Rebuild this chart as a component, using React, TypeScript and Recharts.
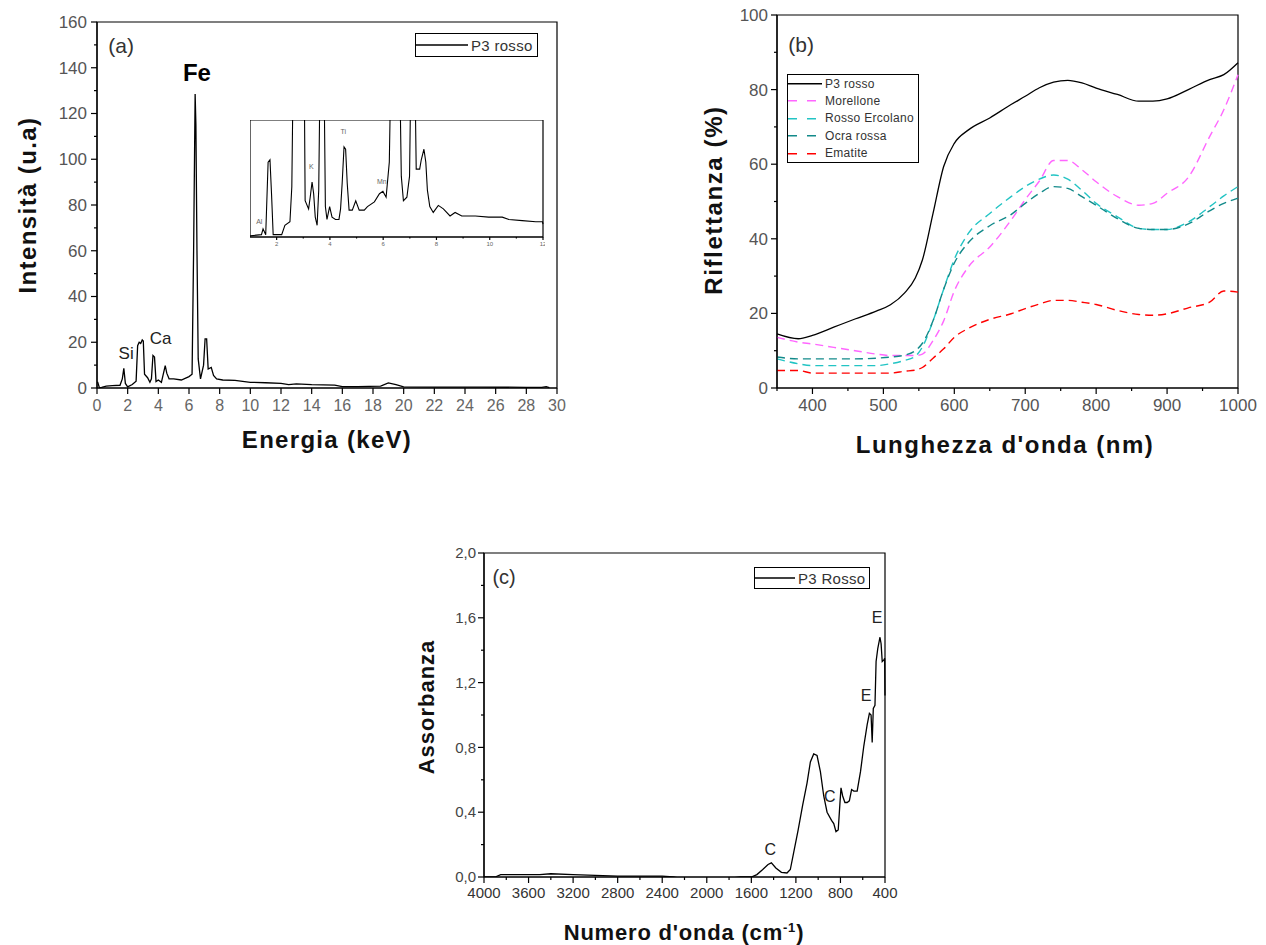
import React from "react";
import {
  Legend,
  Line,
  LineChart,
  ReferenceArea,
  ReferenceDot,
  XAxis,
  YAxis,
} from "recharts";

const FONT = '"Liberation Sans", Arial, sans-serif';

// (a) EDX spectrum
const edxEnergy = [
  0, 0.05, 0.15, 0.3, 0.6, 1.0, 1.5, 1.65, 1.75, 1.85, 2.0, 2.3, 2.55, 2.65, 2.75, 2.85, 2.95, 3.02,
  3.1, 3.3, 3.45, 3.55, 3.65, 3.75, 3.85, 4.0, 4.2, 4.45, 4.55, 4.7, 5.0, 5.5, 6.0, 6.2, 6.3, 6.4,
  6.45, 6.52, 6.6, 6.75, 6.95, 7.05, 7.15, 7.25, 7.45, 7.6, 7.8, 8.2, 9.0, 10.0, 11.0, 12.0, 12.5,
  13.0, 14.0, 15.5, 16.0, 17.0, 18.5, 19.0, 19.5, 20.0, 22.0, 25.0, 28.0, 29.0, 29.3, 29.5,
];
const edxCounts = [
  2.5, 2.5, 0.2, 0.3, 0.8, 1.0, 1.2, 4.0, 8.6, 2.0, 0.5, 1.5, 3.0, 18.5, 20.0, 19.5, 21.0, 20.5,
  6.0, 4.5, 2.5, 4.0, 14.2, 13.5, 2.8, 3.5, 2.5, 9.8, 6.5, 4.0, 4.0, 3.5, 5.0, 6.0, 59.5, 128.5,
  115.0, 60.0, 12.7, 4.0, 10.0, 21.5, 21.5, 8.3, 9.0, 5.5, 4.0, 3.5, 3.3, 2.5, 2.3, 2.0, 1.5,
  1.8, 1.5, 1.3, 0.6, 0.6, 0.8, 2.2, 1.5, 0.5, 0.4, 0.4, 0.3, 0.3, 0.6, 0.2,
];
const edxXTicks = [0, 2, 4, 6, 8, 10, 12, 14, 16, 18, 20, 22, 24, 26, 28, 30];
const edxYTicks = [0, 10, 20, 30, 40, 50, 60, 70, 80, 90, 100, 110, 120, 130, 140, 150, 160];
const edxYMajor = [0, 20, 40, 60, 80, 100, 120, 140, 160];

// (a) inset, zoom on 1-12 keV
const insetEnergy = [
  1.0, 1.43, 1.49, 1.59, 1.68, 1.75, 1.81, 1.87, 2.19, 2.31, 2.5, 2.57, 2.63, 3.03, 3.07, 3.2, 3.26,
  3.33, 3.39, 3.45, 3.52, 3.58, 3.64, 3.77, 3.83, 3.89, 3.99, 4.08, 4.21, 4.34, 4.4, 4.46, 4.53,
  4.59, 4.65, 4.72, 4.84, 4.97, 5.1, 5.29, 5.41, 5.67, 5.86, 5.99, 6.11, 6.23, 6.3, 6.61, 6.68,
  6.76, 6.89, 6.99, 7.05, 7.18, 7.24, 7.37, 7.43, 7.53, 7.6, 7.66, 7.75, 7.88, 8.07, 8.26, 8.51,
  8.7, 8.95, 9.46, 9.96, 10.47, 10.72, 11.22, 11.73, 11.98, 12.0,
];
const insetCounts = [
  1, 2, 7, 2, 64, 66, 36, 2, 2, 10, 13, 43, 160, 160, 31, 24, 34, 47, 37, 17, 10, 40, 160, 160, 26,
  15, 26, 17, 15, 15, 24, 46, 77, 75, 46, 23, 23, 31, 23, 23, 26, 30, 37, 39, 34, 64, 160, 160, 52,
  31, 34, 52, 160, 160, 58, 58, 66, 75, 64, 40, 26, 21, 27, 24, 18, 21, 18, 18, 17, 17, 15, 14,
  13, 13, 11,
];
const insetXTicks = [2, 3, 4, 5, 6, 7, 8, 9, 10, 11, 12];
const insetXMajor = [2, 4, 6, 8, 10, 12];

// (b) reflectance
const wavelengths = [
  350, 380, 400, 430, 460, 490, 510, 530, 545, 555, 570, 585, 600, 620, 650, 680, 700, 720, 740,
  760, 780, 800, 830, 860, 880, 900, 930, 960, 980, 1000,
];
const p3Rosso = [
  14.5, 13.2, 14.1, 16.3, 18.5, 20.6, 22.3, 25.5, 29.5, 34.3, 46.8, 59.4, 65.6, 69.2, 72.4, 76.0,
  78.2, 80.5, 82.0, 82.5, 81.8, 80.4, 78.7, 76.9, 76.9, 77.5, 80.0, 82.7, 84.0, 87.2,
];
const morellone = [
  13.6, 12.3, 11.8, 10.9, 10.0, 9.1, 8.7, 8.7, 8.7, 9.1, 12.7, 18.0, 26.0, 32.5, 37.8, 45.0, 50.5,
  55.5, 61.0, 61.0, 58.5, 55.3, 51.3, 49.0, 49.5, 52.2, 56.5, 67.4, 74.6, 84.0,
];
const rossoErcolano = [
  7.8, 6.5, 6.0, 6.0, 6.0, 6.0, 6.5, 7.4, 8.5, 11.0, 18.0, 26.5, 34.5, 41.5, 46.8, 51.3, 54.0, 56.0,
  57.1, 56.0, 53.0, 49.5, 45.9, 42.8, 42.5, 42.5, 44.5, 48.6, 51.5, 54.0,
];
const ocraRossa = [
  8.3, 7.8, 7.8, 7.8, 7.8, 8.0, 8.3, 8.8, 10.0, 12.0, 18.0, 26.5, 33.5, 39.0, 43.5, 46.5, 49.5, 52.2,
  54.0, 53.5, 51.3, 49.0, 45.4, 42.8, 42.5, 42.5, 44.0, 47.5, 49.5, 50.9,
];
const ematite = [
  4.7, 4.7, 4.0, 4.0, 4.0, 4.0, 4.0, 4.5, 4.8, 5.5, 8.0, 10.5, 13.6, 16.0, 18.4, 19.9, 21.3, 22.5,
  23.5, 23.5, 23.0, 22.4, 20.8, 19.7, 19.5, 19.9, 21.5, 23.0, 26.0, 25.7,
];
const rifXTicks = [350, 400, 450, 500, 550, 600, 650, 700, 750, 800, 850, 900, 950, 1000];
const rifXMajor = [400, 500, 600, 700, 800, 900, 1000];
const rifYTicks = [0, 10, 20, 30, 40, 50, 60, 70, 80, 90, 100];
const rifYMajor = [0, 20, 40, 60, 80, 100];

// (c) FTIR absorbance
const wavenumbers = [
  4000, 3900, 3850, 3700, 3500, 3400, 3200, 3000, 2800, 2600, 2400, 2300, 2200, 2000, 1850, 1700,
  1600, 1550, 1500, 1450, 1420, 1380, 1330, 1280, 1250, 1220, 1180, 1140, 1100, 1070, 1040, 1010,
  980, 950, 920, 880, 860, 840, 820, 805, 795, 780, 760, 740, 720, 700, 680, 650, 620, 590, 560,
  540, 525, 515, 505, 490, 480, 465, 445, 435, 425, 410, 403, 400,
];
const absorbance = [
  0, 0, 0.015, 0.015, 0.015, 0.02, 0.015, 0.01, 0.005, 0.005, 0.005, 0.0, -0.012, -0.012, -0.012,
  0.0, 0.0, 0.015, 0.045, 0.077, 0.087, 0.056, 0.029, 0.025, 0.046, 0.15, 0.29, 0.44, 0.58, 0.71,
  0.76, 0.75, 0.65, 0.5, 0.4, 0.35, 0.33, 0.28, 0.29, 0.45, 0.55, 0.5, 0.46, 0.46, 0.47, 0.54, 0.53,
  0.53, 0.65, 0.81, 0.94, 1.01, 1.0, 0.83, 1.04, 1.06, 1.33, 1.41, 1.48, 1.44, 1.33, 1.34, 1.35,
  1.12,
];
const ftirXTicks = [
  400, 600, 800, 1000, 1200, 1400, 1600, 1800, 2000, 2200, 2400, 2600, 2800, 3000, 3200, 3400, 3600,
  3800, 4000,
];
const ftirXMajor = [400, 800, 1200, 1600, 2000, 2400, 2800, 3200, 3600, 4000];
const ftirYTicks = [0, 0.2, 0.4, 0.6, 0.8, 1, 1.2, 1.4, 1.6, 1.8, 2];
const ftirYMajor = [0, 0.4, 0.8, 1.2, 1.6, 2];

const edxData = edxEnergy.map((e, i) => ({ e, v: edxCounts[i] }));
const insetData = insetEnergy.map((e, i) => ({ e, v: insetCounts[i] }));
const rifData = wavelengths.map((wl, i) => ({
  wl,
  p3: p3Rosso[i],
  mor: morellone[i],
  erc: rossoErcolano[i],
  ocra: ocraRossa[i],
  ema: ematite[i],
}));
const ftirData = wavenumbers.map((wn, i) => ({ wn, a: absorbance[i] }));

const rifSeries = [
  { key: "p3", name: "P3 rosso", color: "#000000", dash: undefined },
  { key: "mor", name: "Morellone", color: "#ff66ff", dash: "8 5" },
  { key: "erc", name: "Rosso Ercolano", color: "#22c4c4", dash: "8 5" },
  { key: "ocra", name: "Ocra rossa", color: "#138a8a", dash: "8 5" },
  { key: "ema", name: "Ematite", color: "#ff0000", dash: "8 5" },
];

type TickOpts = {
  side: "left" | "bottom";
  majors: number[];
  fmt?: (v: number) => string;
  fontSize: number;
  major?: number;
  minor?: number;
  gap?: number;
  color?: string;
};

function axisTick({ side, majors, fmt = (v) => String(v), fontSize, major = 6, minor = 3, gap = 10, color = "#333" }: TickOpts) {
  return (props: any) => {
    const { x, y, payload } = props;
    const v = payload.value;
    const isMajor = majors.includes(v);
    const len = isMajor ? major : minor;
    if (side === "bottom") {
      return (
        <g>
          <line x1={x} y1={y} x2={x} y2={y + len} stroke="#000" strokeWidth={1.2} />
          {isMajor && (
            <text x={x} y={y + gap} dy="0.71em" textAnchor="middle" fontSize={fontSize} fill={color} fontFamily={FONT}>
              {fmt(v)}
            </text>
          )}
        </g>
      );
    }
    return (
      <g>
        <line x1={x} y1={y} x2={x - len} y2={y} stroke="#000" strokeWidth={1.2} />
        {isMajor && (
          <text x={x - gap} y={y} dy="0.35em" textAnchor="end" fontSize={fontSize} fill={color} fontFamily={FONT}>
            {fmt(v)}
          </text>
        )}
      </g>
    );
  };
}

type LegendItem = { name: string; color: string; dash?: string };

function BoxLegend({ items, fontSize, rowH, sample }: { items: LegendItem[]; fontSize: number; rowH: number; sample: number }) {
  return (
    <div
      style={{
        border: "1.5px solid #000",
        background: "#fff",
        boxSizing: "border-box",
        padding: "0 4px 0 0",
        fontFamily: FONT,
        display: "inline-block",
      }}
    >
      {items.map((it) => (
        <div key={it.name} style={{ display: "flex", alignItems: "center", height: rowH }}>
          <svg width={sample} height={rowH} style={{ display: "block" }}>
            <line
              x1={0}
              x2={sample}
              y1={rowH / 2}
              y2={rowH / 2}
              stroke={it.color}
              strokeWidth={1.5}
              strokeDasharray={it.dash}
            />
          </svg>
          <span style={{ fontSize, color: "#333", marginLeft: 3, whiteSpace: "nowrap", letterSpacing: 0.3 }}>{it.name}</span>
        </div>
      ))}
    </div>
  );
}

function Title({ x, y, text, size, spacing, rotate }: { x: number; y: number; text: React.ReactNode; size: number; spacing: number; rotate?: boolean }) {
  return (
    <div
      style={{
        position: "absolute",
        left: x,
        top: y,
        transform: `translate(-50%, -50%)${rotate ? " rotate(-90deg)" : ""}`,
        fontFamily: FONT,
        fontWeight: "bold",
        fontSize: size,
        letterSpacing: spacing,
        whiteSpace: "nowrap",
        color: "#111",
      }}
    >
      {text}
    </div>
  );
}

const axisLine = { stroke: "#000", strokeWidth: 1.2 };

function note(x: number, y: number, text: string, fontSize: number, bold = false, fill = "#222") {
  return (
    <ReferenceDot
      key={`${text}-${x}-${y}`}
      x={x}
      y={y}
      r={0}
      stroke="none"
      fill="none"
      label={{ value: text, position: "center", fontSize, fontWeight: bold ? "bold" : "normal", fill, fontFamily: FONT }}
    />
  );
}

function EdxChart() {
  return (
    <div style={{ position: "absolute", left: 0, top: 0 }}>
      <LineChart width={580} height={460} data={edxData} margin={{ top: 22, right: 23, left: 57, bottom: 42 }}>
        <XAxis
          dataKey="e"
          type="number"
          domain={[0, 30]}
          ticks={edxXTicks}
          interval={0}
          height={30}
          tickSize={0}
          tickMargin={0}
          axisLine={axisLine}
          tickLine={false}
          tick={axisTick({ side: "bottom", majors: edxXTicks, fontSize: 16, gap: 12, color: "#666" })}
        />
        <YAxis
          type="number"
          domain={[0, 160]}
          ticks={edxYTicks}
          interval={0}
          width={40}
          tickSize={0}
          tickMargin={0}
          axisLine={axisLine}
          tickLine={false}
          tick={axisTick({ side: "left", majors: edxYMajor, fontSize: 17, gap: 10, color: "#555" })}
        />
        <ReferenceArea x1={0} x2={30} y1={0} y2={160} fill="none" stroke="#000" strokeWidth={1.2} />
        <Line dataKey="v" type="linear" stroke="#000" strokeWidth={1.3} dot={false} isAnimationActive={false} />
        {note(1.57, 149.5, "(a)", 21, false, "#333")}
        {note(6.52, 138, "Fe", 24, true, "#000")}
        {note(1.9, 15.5, "Si", 17)}
        {note(4.15, 22, "Ca", 17)}
        <Legend
          layout="horizontal"
          verticalAlign="middle"
          align="center"
          wrapperStyle={{ left: 415, top: 33, width: 140, height: 26 }}
          content={() => (
            <BoxLegend items={[{ name: "P3 rosso", color: "#000" }]} fontSize={15} rowH={22} sample={52} />
          )}
        />
      </LineChart>
    </div>
  );
}

function EdxInset() {
  return (
    <div style={{ position: "absolute", left: 250, top: 120 }}>
      <LineChart width={295} height={131} data={insetData} margin={{ top: 0, right: 2, left: 0, bottom: 0 }}>
        <XAxis
          dataKey="e"
          type="number"
          domain={[1, 12]}
          ticks={insetXTicks}
          interval={0}
          height={14}
          tickSize={0}
          tickMargin={0}
          axisLine={axisLine}
          tickLine={false}
          tick={axisTick({ side: "bottom", majors: insetXMajor, fontSize: 6, major: 3, minor: 1.5, gap: 5, color: "#666" })}
        />
        <YAxis type="number" domain={[0, 100]} allowDataOverflow hide />
        <ReferenceArea x1={1} x2={12} y1={0} y2={100} fill="#fff" fillOpacity={1} stroke="#000" strokeWidth={1.2} />
        <Line dataKey="v" type="linear" stroke="#000" strokeWidth={1.1} dot={false} isAnimationActive={false} />
        {note(1.35, 13, "Al", 7, false, "#666")}
        {note(3.3, 60, "K", 7, false, "#666")}
        {note(4.5, 90, "Ti", 7, false, "#666")}
        {note(5.95, 47, "Mn", 7, false, "#666")}
      </LineChart>
    </div>
  );
}

function ReflectanceChart() {
  return (
    <div style={{ position: "absolute", left: 690, top: 0 }}>
      <LineChart width={576} height={470} data={rifData} margin={{ top: 15, right: 28, left: 47, bottom: 52 }}>
        <XAxis
          dataKey="wl"
          type="number"
          domain={[350, 1000]}
          ticks={rifXTicks}
          interval={0}
          height={30}
          tickSize={0}
          tickMargin={0}
          axisLine={axisLine}
          tickLine={false}
          tick={axisTick({ side: "bottom", majors: rifXMajor, fontSize: 17, gap: 11, color: "#555" })}
        />
        <YAxis
          type="number"
          domain={[0, 100]}
          ticks={rifYTicks}
          interval={0}
          width={40}
          tickSize={0}
          tickMargin={0}
          axisLine={axisLine}
          tickLine={false}
          tick={axisTick({ side: "left", majors: rifYMajor, fontSize: 17, gap: 9, color: "#555" })}
        />
        <ReferenceArea x1={350} x2={1000} y1={0} y2={100} fill="none" stroke="#000" strokeWidth={1.2} />
        {rifSeries.map((s) => (
          <Line
            key={s.key}
            dataKey={s.key}
            name={s.name}
            type="monotone"
            stroke={s.color}
            strokeWidth={s.dash ? 1.4 : 1.3}
            strokeDasharray={s.dash}
            dot={false}
            isAnimationActive={false}
          />
        ))}
        {note(384, 92, "(b)", 21, false, "#333")}
        <Legend
          layout="horizontal"
          verticalAlign="middle"
          align="center"
          wrapperStyle={{ left: 97, top: 74, width: 142, height: 90 }}
          content={() => (
            <BoxLegend
              items={rifSeries.map((s) => ({ name: s.name, color: s.color, dash: s.dash ? "9 10" : undefined }))}
              fontSize={12}
              rowH={17.4}
              sample={34}
            />
          )}
        />
      </LineChart>
    </div>
  );
}

function FtirChart() {
  const fmt = (v: number) => v.toFixed(1).replace(".", ",");
  return (
    <div style={{ position: "absolute", left: 400, top: 530 }}>
      <LineChart width={500} height={415} data={ftirData} margin={{ top: 23, right: 15, left: 44, bottom: 38 }}>
        <XAxis
          dataKey="wn"
          type="number"
          domain={[400, 4000]}
          reversed
          ticks={ftirXTicks}
          interval={0}
          height={30}
          tickSize={0}
          tickMargin={0}
          axisLine={axisLine}
          tickLine={false}
          tick={axisTick({ side: "bottom", majors: ftirXMajor, fontSize: 15, gap: 10 })}
        />
        <YAxis
          type="number"
          domain={[0, 2]}
          allowDataOverflow
          ticks={ftirYTicks}
          interval={0}
          width={40}
          tickSize={0}
          tickMargin={0}
          axisLine={axisLine}
          tickLine={false}
          tick={axisTick({ side: "left", majors: ftirYMajor, fmt, fontSize: 15, gap: 8, color: "#444" })}
        />
        <ReferenceArea x1={400} x2={4000} y1={0} y2={2} fill="none" stroke="#000" strokeWidth={1.2} />
        <Line dataKey="a" type="linear" stroke="#000" strokeWidth={1.3} dot={false} isAnimationActive={false} />
        {note(3820, 1.85, "(c)", 20, false, "#333")}
        {note(1429, 0.17, "C", 16)}
        {note(895, 0.5, "C", 16)}
        {note(569, 1.12, "E", 16)}
        {note(471, 1.6, "E", 16)}
        <Legend
          layout="horizontal"
          verticalAlign="middle"
          align="center"
          wrapperStyle={{ left: 354, top: 37, width: 124, height: 25 }}
          content={() => (
            <BoxLegend items={[{ name: "P3 Rosso", color: "#000" }]} fontSize={15} rowH={20} sample={40} />
          )}
        />
      </LineChart>
    </div>
  );
}

export default function App() {
  return (
    <div
      style={{
        position: "absolute",
        left: 0,
        top: 0,
        width: 1266,
        height: 945,
        background: "#fff",
        overflow: "hidden",
        fontFamily: FONT,
      }}
    >
      <EdxChart />
      <EdxInset />
      <ReflectanceChart />
      <FtirChart />
      <Title x={28} y={205} text="Intensità (u.a)" size={24} spacing={1.4} rotate />
      <Title x={327} y={440} text="Energia (keV)" size={24} spacing={1.3} />
      <Title x={714} y={200} text="Riflettanza (%)" size={24} spacing={1.6} rotate />
      <Title x={1005} y={445} text="Lunghezza d'onda (nm)" size={24} spacing={1.5} />
      <Title x={427} y={707} text="Assorbanza" size={22} spacing={1} rotate />
      <Title
        x={684}
        y={933}
        text={
          <>
            Numero d'onda (cm<sup style={{ fontSize: 13 }}>-1</sup>)
          </>
        }
        size={22}
        spacing={0.8}
      />
    </div>
  );
}
